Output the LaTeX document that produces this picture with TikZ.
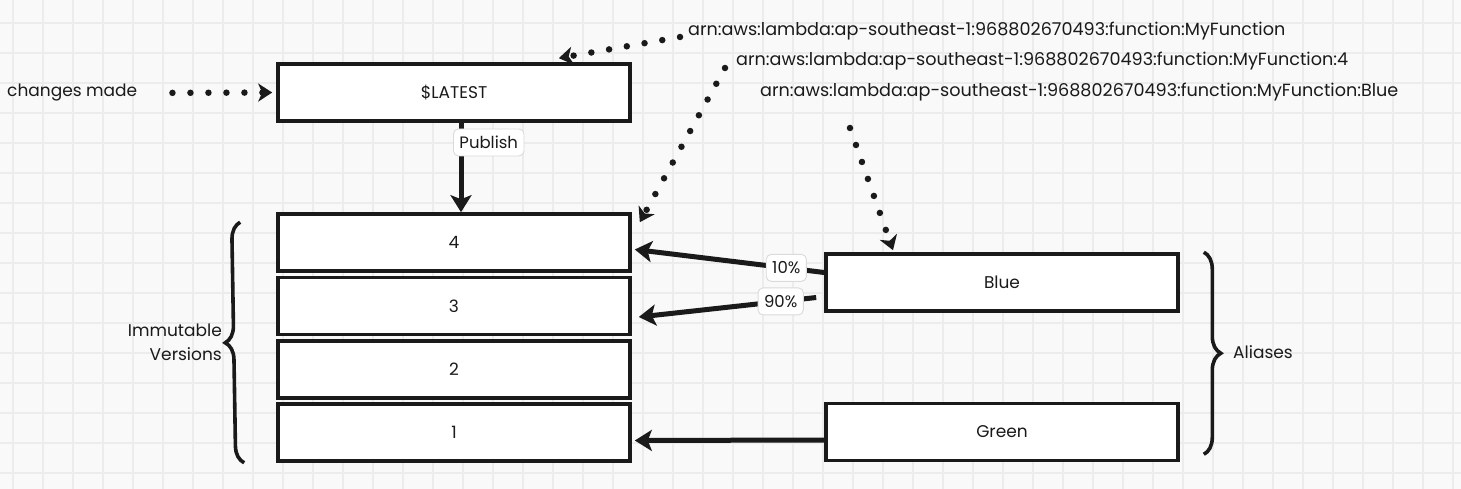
\documentclass[tikz,border=0pt]{standalone}
\usepackage{fontspec}
\setmainfont{Poppins}
\usetikzlibrary{positioning,arrows.meta,decorations.pathreplacing}
\definecolor{ink}{HTML}{1A1A1A}
\definecolor{paper}{HTML}{F9F9F9}
\definecolor{gridc}{HTML}{ECECEC}
\definecolor{tagline}{HTML}{DADADA}

\tikzset{
  vbox/.style={draw=ink, fill=white, line width=3.6pt, minimum width=352pt,
    minimum height=57pt, inner sep=0pt, text=ink, font=\fontsize{17}{20}\selectfont},
  txt/.style={text=ink, inner sep=0pt, font=\fontsize{17}{24}\selectfont},
  arn/.style={txt, anchor=west, font=\fontsize{17.6}{20}\selectfont},
  tag/.style={draw=tagline, fill=white, line width=0.9pt, rounded corners=5pt,
    inner xsep=6pt, inner ysep=3pt, minimum height=27pt, text=ink,
    font=\fontsize{16.5}{19}\selectfont},
  link/.style={draw=ink, line width=5pt, -{Stealth[length=17pt,width=21pt,inset=4pt]}},
  dotlink/.style={draw=ink, line width=6.5pt, line cap=round,
    dash pattern=on 0pt off 18pt, -{Stealth[length=14pt,width=18pt,inset=4pt]}},
  curly/.style={draw=ink, line width=3.6pt, decorate, decoration={brace, amplitude=17pt}},
  gridline/.style={draw=gridc, line width=1.5pt},
}

\begin{document}
\begin{tikzpicture}[x=1pt,y=-1pt]
  \useasboundingbox[fill=paper] (0,0) rectangle (1461,489);
  \foreach \gx in {13,43,...,1453} \draw[gridline] (\gx,0) -- (\gx,489);
  \foreach \gy in {23,53,...,489} \draw[gridline] (0,\gy) -- (1461,\gy);

  \path
  (7,93) node[txt, anchor=west](changes) {changes made}
  (454,92.5) node[vbox](latest) {\$LATEST}
  (454,242.5) node[vbox](v4) {4}
  (454,306) node[vbox](v3) {3}
  (454,369.5) node[vbox](v2) {2}
  (454,432.5) node[vbox](v1) {1}
  (1002,282.5) node[vbox](blue) {Blue}
  (1002,432) node[vbox](green) {Green}
  (688,31) node[arn](arnfn) {arn:aws:lambda:ap-southeast-1:968802670493:function:MyFunction}
  (736,61) node[arn](arnver) {arn:aws:lambda:ap-southeast-1:968802670493:function:MyFunction:4}
  (760,92) node[arn](arnalias) {arn:aws:lambda:ap-southeast-1:968802670493:function:MyFunction:Blue}
  (222,342) node[txt, anchor=east, align=right](immut) {Immutable\\Versions}
  (1233,352) node[txt, anchor=west](aliases) {Aliases}
  ;
  \coordinate (fnstart) at (680,37);
  \coordinate (verstart) at (725,68);
  \coordinate (aliasstart) at (850,128);

  % braces
  \draw[curly] ([xshift=-32pt]v1.south west) -- ([xshift=-36pt,yshift=-10pt]v4.north west);
  \draw[curly] ([xshift=24pt]blue.north east) -- ([xshift=24pt,yshift=8pt]green.south east);

  % arrows
  \draw[dotlink, shorten <=35pt, shorten >=4pt] (changes.east) -- (latest.west);
  \draw[dotlink] (fnstart) -- ([xshift=-73pt,yshift=4pt]latest.north east);
  \draw[dotlink] (verstart) -- ([xshift=8pt,yshift=-10pt]v4.north east);
  \draw[dotlink] (aliasstart) -- ([xshift=-109pt,yshift=2pt]blue.north);
  \draw[link] ([xshift=7pt]latest.south) -- ([xshift=7pt]v4.north)
    node[tag, pos=0.22, anchor=west, xshift=-8pt] {Publish};
  \draw[link] ([yshift=10pt]blue.west) -- ([xshift=3pt,yshift=-7pt]v4.east)
    node[tag, pos=0.2] {10\%};
  \draw[link] ([xshift=-8pt,yshift=-15pt]blue.west) -- ([xshift=7pt,yshift=-11pt]v3.east)
    node[tag, pos=0.2] {90\%};
  \draw[link] ([yshift=-8pt]green.west) -- ([xshift=3pt,yshift=-8pt]v1.east);
\end{tikzpicture}
\end{document}
